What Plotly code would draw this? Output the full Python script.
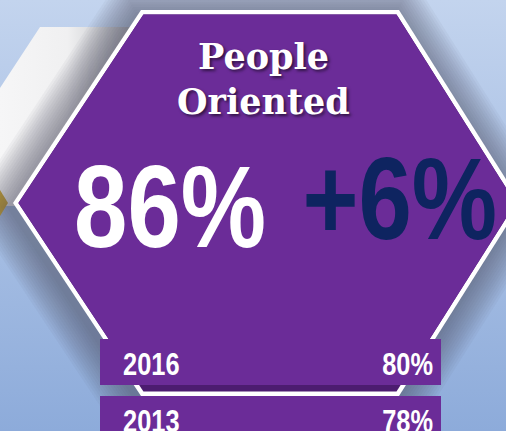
import json
import numpy as np
import plotly.graph_objects as go

# ---- data ----
title_lines = ["People", "Oriented"]
score_pct = 86
change_pct = 6
years = ["2016", "2013"]
year_pct = [80, 78]

W, H = 506, 431
PURPLE = "#6B2C98"
DARK_PURPLE = "#4C1C70"
NAVY = "#0E2460"
NARROW = "Liberation Sans, Arial"
NARROW_SCALE = 0.82  # Arial Narrow is Arial compressed horizontally

# hexagon geometry (outer white border)
HEX = np.array([[141, 10], [399, 10], [521, 203], [399, 396], [141, 396], [13, 203]], float)


def offset_poly(poly, d):
    """Offset a convex polygon outward by d pixels."""
    n = len(poly)
    out = []
    cen = poly.mean(axis=0)
    for i in range(n):
        p0, p1, p2 = poly[i - 1], poly[i], poly[(i + 1) % n]
        normals = []
        for a, b in ((p0, p1), (p1, p2)):
            e = b - a
            nrm = np.array([e[1], -e[0]]) / np.hypot(*e)
            if np.dot(nrm, (a + b) / 2 - cen) < 0:
                nrm = -nrm
            normals.append(nrm)
        n1, n2 = normals
        bis = (n1 + n2) / (1 + np.dot(n1, n2))
        out.append(p1 + d * bis)
    return np.array(out)


def poly_trace(pts, color=None, opacity=1.0, gradient=None):
    pts = np.vstack([pts, pts[:1]])
    kw = dict(x=pts[:, 0], y=pts[:, 1], mode="lines", fill="toself",
              line=dict(width=0, color="rgba(0,0,0,0)"), hoverinfo="skip",
              showlegend=False, opacity=opacity)
    if gradient is not None:
        kw["fillgradient"] = gradient
    else:
        kw["fillcolor"] = color
    return go.Scatter(**kw)


fig = go.Figure()

# background gradient
fig.add_trace(poly_trace(np.array([[0, 0], [W, 0], [W, H], [0, H]], float),
                         gradient=dict(type="vertical", start=0, stop=H,
                                       colorscale=[[0, "#C3D4EE"], [1, "#8DABDA"]])))
# neighbouring white hexagon (top-left)
fig.add_trace(poly_trace(np.array([[40, 27], [160, 27], [160, 206], [0, 206], [0, 88]], float),
                         gradient=dict(type="horizontal", start=0, stop=150,
                                       colorscale=[[0, "#F6F6F7"], [0.45, "#F0F0F1"], [1, "#A6A9AF"]])))
# yellow tip of another hexagon
fig.add_trace(poly_trace(np.array([[0, 190], [8, 203], [0, 216]], float), color="#D0A82A"))

# soft shadow around main hexagon (light from upper right)
for d in np.linspace(34, 2, 14):
    fig.add_trace(poly_trace(offset_poly(HEX, d) + np.array([-4, 4]), color="#50565F", opacity=0.05))

# main hexagon: white border, dark bevel, purple face
fig.add_trace(poly_trace(HEX, color="#FFFFFF"))
inner = offset_poly(HEX, -4.5)
fig.add_trace(poly_trace(inner, color=DARK_PURPLE))
face = inner.copy()
face[3, 1] = face[4, 1] = 385
face[3, 0] = face[2, 0] - (face[2, 0] - inner[3, 0]) * (385 - 203) / (inner[3, 1] - 203)
face[4, 0] = face[5, 0] + (inner[4, 0] - face[5, 0]) * (385 - 203) / (inner[4, 1] - 203)
fig.add_trace(poly_trace(face, color=PURPLE))

narrow = []  # (annotation index, transform origin)


def add_text(origin, **kw):
    idx = len(fig.layout.annotations)
    fig.add_annotation(showarrow=False, **kw)
    if origin:
        narrow.append((idx, origin))


# year strips
for i, (yr, v) in enumerate(zip(years, year_pct)):
    y0 = 339 + i * 57
    fig.add_shape(type="rect", x0=100, x1=441, y0=y0, y1=y0 + 46,
                  fillcolor=PURPLE, line=dict(width=0), layer="above")
    add_text("left center", x=121, y=y0 + 25.5, text=f"<b>{yr}</b>", xanchor="left", yanchor="middle",
             font=dict(family=NARROW, size=31, color="white"))
    add_text("right center", x=435, y=y0 + 25.5, text=f"<b>{v}%</b>", xanchor="right", yanchor="middle",
             font=dict(family=NARROW, size=31, color="white"))

# title
for j, line in enumerate(title_lines):
    add_text(None, x=263, y=56 + j * 45, text=f"<b>{line}</b>",
             xanchor="center", yanchor="middle",
             font=dict(family="DejaVu Serif", size=35, color="white",
                       shadow="2px 2px 3px rgba(0,0,0,0.55)"))

# big numbers
add_text("center center", x=170, y=206, text=f"<b>{score_pct}%</b>",
         xanchor="center", yanchor="middle",
         font=dict(family=NARROW, size=117, color="white"))
add_text("center center", x=399, y=198.5, text=f"<b>+{change_pct}%</b>",
         xanchor="center", yanchor="middle",
         font=dict(family=NARROW, size=117, color=NAVY))

fig.update_layout(
    width=W, height=H, margin=dict(l=0, r=0, t=0, b=0),
    paper_bgcolor="#B0C4E6", plot_bgcolor="rgba(0,0,0,0)",
    xaxis=dict(range=[0, W], visible=False, fixedrange=True),
    yaxis=dict(range=[H, 0], visible=False, fixedrange=True),
    showlegend=False,
)

post_js = """
document.body.style.margin = '0';
var narrow = %s;
narrow.forEach(function(item) {
  var g = document.querySelector('.annotation[data-index="' + item[0] + '"] text');
  if (g) {
    g.style.transformBox = 'fill-box';
    g.style.transformOrigin = item[1];
    g.style.transform = 'scaleX(%s)';
  }
});
""" % (json.dumps(narrow), NARROW_SCALE)

fig.write_html("out.html", post_script=post_js, config={"staticPlot": True})
